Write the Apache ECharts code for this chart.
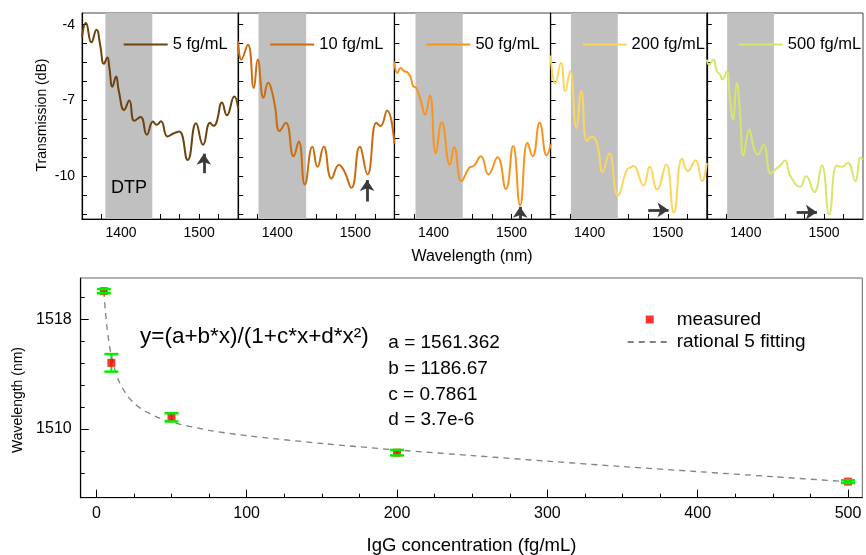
<!DOCTYPE html>
<html><head><meta charset="utf-8">
<script src="https://cdn.jsdelivr.net/npm/echarts@6/dist/echarts.min.js"></script>
<style>html,body{margin:0;padding:0;background:#fff}#c{width:866px;height:555px}</style>
</head><body><div id="c"></div>
<script>
// ---------- top panels: transmission spectra ----------
const seriesNames = ['5 fg/mL', '10 fg/mL', '50 fg/mL', '200 fg/mL', '500 fg/mL'];

const wave5 = [1350,1355,1362,1368.5,1373.5,1378,1382.5,1385,1389,1393.6,1397,1404,1410.5,1417,1425,1433,1441,1445.5,1451,1459.5,1467,1474.5,1485.3,1496,1505,1514,1518.5,1522,1529.3,1535.5,1545,1550];
const trans5 = [-4.49,-3.93,-4.7,-4.2,-4.85,-5.55,-5.3,-5.7,-6.45,-6.05,-6.6,-7.37,-7.0,-7.8,-7.65,-8.35,-7.83,-7.96,-7.82,-8.42,-8.3,-8.22,-9.35,-7.9,-8.75,-7.88,-8.0,-7.88,-7.08,-7.58,-6.84,-7.32];

const wave10 = [1350,1354,1362.4,1370,1375,1382.5,1388.5,1392,1397,1403,1411,1421,1427.5,1435.3,1445,1451.5,1459.5,1469.5,1479,1486,1495,1505.6,1515.5,1527,1532,1540.6,1550];
const trans10 = [-4.66,-5.38,-4.79,-6.5,-5.38,-6.89,-6.3,-6.5,-7.2,-8.2,-7.88,-9.2,-8.62,-10.32,-8.83,-9.62,-8.83,-10.08,-9.55,-9.8,-10.45,-8.83,-9.92,-7.88,-8.01,-7.39,-8.7];

const wave50 = [1350,1353.8,1358,1362.4,1366.7,1371,1374,1378,1384,1389.3,1395.5,1403,1410.7,1421,1426.5,1436,1445.7,1452,1460.7,1470.5,1482,1492.7,1502,1511,1520.5,1527,1536,1545,1550];
const trans50 = [-5.45,-5.91,-5.71,-5.84,-5.88,-6.1,-6.43,-6.5,-7.03,-7.55,-6.8,-9.07,-7.86,-9.53,-8.84,-10.18,-9.66,-9.57,-9.2,-9.92,-9.24,-10.49,-8.8,-11.14,-8.67,-9.2,-7.88,-9.17,-8.74];

const wave200 = [1350,1356,1363.3,1368.8,1375,1383,1389.3,1396.6,1403,1407,1411,1416.7,1425.2,1436,1447.9,1452,1456,1469,1476.9,1486.3,1498,1507.7,1518.4,1525.6,1535.5,1544,1550];
const trans200 = [-5.22,-6.33,-5.51,-6.63,-5.84,-8.08,-6.63,-8.6,-8.43,-8.51,-8.9,-9.83,-9.09,-10.75,-9.72,-9.65,-9.59,-10.36,-9.62,-10.51,-9.53,-11.43,-9.29,-9.79,-9.37,-10.18,-9.46];

const wave500 = [1350,1353,1358.5,1362.8,1367,1370,1375.5,1380,1383.5,1388.3,1392.6,1396.9,1404.5,1409.6,1415.2,1422.5,1431.9,1437.5,1443,1450.3,1456.7,1469.5,1477.2,1487.5,1497.3,1506.7,1516.5,1523,1530.6,1540,1547,1550];
const trans500 = [-5.38,-5.58,-5.38,-5.84,-5.97,-6.17,-5.84,-7.03,-7.75,-6.3,-7.49,-9.17,-8.14,-8.8,-9.13,-8.76,-9.89,-9.72,-9.6,-9.37,-9.96,-10.41,-9.99,-10.62,-9.57,-11.5,-9.57,-9.62,-9.46,-10.18,-9.26,-9.33];

// DTP shaded band (nm) per panel
const dtpStart = [1380, 1376, 1377, 1376, 1376];
const dtpEnd = [1440, 1437, 1437.5, 1436, 1436];
// arrows (nm, dB)
const arrowFrom = [[1506,-9.87],[1515,-10.99],[1511,-11.68],[1475,-11.32],[1465,-11.41]];
const arrowTo = [[1506,-9.1],[1515,-10.14],[1511,-11.2],[1501,-11.32],[1491,-11.41]];

const waveTicks = [1375,1400,1425,1450,1475,1500,1525];
const waveLabels = [1400,1500];
const transTicks = [-11.5,-10.75,-10,-9.25,-8.5,-7.75,-7,-6.25,-5.5,-4.75,-4];
const transLabels = [-10,-7,-4];

// ---------- bottom panel: peak wavelength vs concentration ----------
const concentration = [5, 10, 50, 200, 500];
const peakWavelength = [1520.04, 1514.82, 1510.85, 1508.28, 1506.17];
const peakError = [0.15, 0.64, 0.3, 0.2, 0.1];
const fitConc = [5,6,7,8,9,10,12,15,20,25,30,40,50,75,100,150,200,250,300,350,400,450,500];
const fitWave = [1520.04,1518.6,1517.5,1516.6,1515.9,1515.34,1514.46,1513.5,1512.53,1511.9,1511.46,1510.89,1510.5,1509.91,1509.52,1508.95,1508.48,1508.07,1507.66,1507.27,1506.9,1506.53,1506.16];
const concMajor = [0,100,200,300,400,500];
const concMinor = [25,50,75,125,150,175,225,250,275,325,350,375,425,450,475];
const wlMajor = [1510,1518];
const wlMinor = [1506.8,1508.4,1511.6,1513.2,1514.8,1516.4,1519.6];

// ---------- build option ----------
const FONT = '"Liberation Sans", Arial, Helvetica, sans-serif';
const plain = v => String(v);
const waves = [wave5, wave10, wave50, wave200, wave500];
const transs = [trans5, trans10, trans50, trans200, trans500];
const colors = ['#6e420e', '#c96d10', '#f7931e', '#fdd55e', '#d9e46c'];
const panelLeft = [82, 238.2, 394.4, 550.6, 706.8];
const panelW = 156.2;

const grids = [], xAxes = [], yAxes = [], series = [], legends = [];
for (let i = 0; i < 5; i++) {
  grids.push({left: panelLeft[i], top: 13, width: panelW, height: 206, show: true,
    borderColor: '#444', borderWidth: 1, backgroundColor: 'transparent'});
  xAxes.push({gridIndex: i, type: 'value', min: 1350, max: 1550,
    axisLine: {show: true, onZero: false, lineStyle: {color: '#000', width: 1.2}},
    axisTick: {show: true, inside: true, length: 5, customValues: waveTicks, lineStyle: {color: '#000'}},
    axisLabel: {show: true, customValues: waveLabels, formatter: plain, fontSize: 14, fontFamily: FONT, color: '#000', margin: 7},
    splitLine: {show: false}});
  yAxes.push({gridIndex: i, type: 'value', min: -11.68, max: -3.54,
    axisLine: {show: true, onZero: false, lineStyle: {color: '#000', width: 1.2}},
    axisTick: {show: true, inside: true, length: 5, customValues: transTicks, lineStyle: {color: '#000'}},
    axisLabel: {show: i === 0, customValues: transLabels, formatter: plain, fontSize: 14, fontFamily: FONT, color: '#000', margin: 7},
    splitLine: {show: false}});
  series.push({
    type: 'line', name: seriesNames[i], xAxisIndex: i, yAxisIndex: i,
    data: waves[i].map((w, k) => [w, transs[i][k]]),
    symbol: 'none', smooth: 0.5, lineStyle: {color: colors[i], width: 2}, itemStyle: {color: colors[i]},
    z: 3, silent: true,
    markArea: {silent: true, itemStyle: {color: '#c0c0c0', opacity: 1},
      data: [[{xAxis: dtpStart[i]}, {xAxis: dtpEnd[i]}]]},
    markLine: {silent: true, symbol: ['none', 'arrow'], symbolSize: 11,
      lineStyle: {color: '#3a3a3a', width: 2.8, type: 'solid'}, label: {show: false},
      data: [[{coord: arrowFrom[i]}, {coord: arrowTo[i]}]]}
  });
  legends.push({data: [{name: seriesNames[i], itemStyle: {opacity: 0}}], left: i === 0 ? 122.7 : panelLeft[i] + 31, top: 36, padding: 0,
    itemWidth: 44, itemHeight: 16, selectedMode: false,
    textStyle: {fontSize: 16.5, fontFamily: FONT, color: '#000', lineHeight: 16}});
}
// bottom grid
grids.push({left: 80.7, top: 278, width: 781.6, height: 219.7, show: true, borderColor: '#666', borderWidth: 1, backgroundColor: 'transparent'});
xAxes.push({gridIndex: 5, type: 'value', min: -10.4, max: 509.5, position: 'bottom',
  axisLine: {show: true, onZero: false, lineStyle: {color: '#000', width: 1.2}},
  axisTick: {show: true, inside: true, length: 8, customValues: concMajor, lineStyle: {color: '#000'}},
  axisLabel: {show: true, customValues: concMajor, formatter: plain, fontSize: 16, fontFamily: FONT, color: '#000', margin: 8},
  splitLine: {show: false}});
xAxes.push({gridIndex: 5, type: 'value', min: -10.4, max: 509.5, position: 'bottom',
  axisLine: {show: false, onZero: false}, axisTick: {show: true, inside: true, length: 4, customValues: concMinor, lineStyle: {color: '#000'}},
  axisLabel: {show: false}, splitLine: {show: false}});
yAxes.push({gridIndex: 5, type: 'value', min: 1505, max: 1521, position: 'left',
  axisLine: {show: true, onZero: false, lineStyle: {color: '#000', width: 1.2}},
  axisTick: {show: true, inside: true, length: 8, customValues: wlMajor, lineStyle: {color: '#000'}},
  axisLabel: {show: true, customValues: wlMajor, formatter: plain, fontSize: 16, fontFamily: FONT, color: '#000', margin: 9},
  splitLine: {show: false}});
yAxes.push({gridIndex: 5, type: 'value', min: 1505, max: 1521, position: 'left',
  axisLine: {show: false, onZero: false}, axisTick: {show: true, inside: true, length: 4, customValues: wlMinor, lineStyle: {color: '#000'}},
  axisLabel: {show: false}, splitLine: {show: false}});

const errData = concentration.map((c, k) => [c, peakWavelength[k], peakError[k]]);
series.push({type: 'line', name: 'rational 5 fitting', xAxisIndex: 5, yAxisIndex: 5,
  data: fitConc.map((c, k) => [c, fitWave[k]]), symbol: 'none', smooth: 0.3, silent: true,
  lineStyle: {color: '#808080', width: 1.3, type: [6, 5]}, itemStyle: {color: '#808080'}, z: 2});
series.push({type: 'custom', name: 'stems', xAxisIndex: 5, yAxisIndex: 5, data: errData, z: 2, silent: true,
  encode: {x: 0, y: 1},
  renderItem: (params, api) => {
    const x = api.value(0), y = api.value(1), e = api.value(2);
    const t = api.coord([x, y + e]), b = api.coord([x, y - e]);
    return {type: 'line', shape: {x1: t[0], y1: t[1], x2: b[0], y2: b[1]}, style: {stroke: '#00ee00', lineWidth: 2}};
  }});
series.push({type: 'scatter', name: 'measured', xAxisIndex: 5, yAxisIndex: 5,
  data: concentration.map((c, k) => [c, peakWavelength[k]]), symbol: 'rect', symbolSize: 8,
  itemStyle: {color: '#ff0000'}, z: 3, silent: true});
series.push({type: 'custom', name: 'caps', xAxisIndex: 5, yAxisIndex: 5, data: errData, z: 4, silent: true,
  encode: {x: 0, y: 1},
  renderItem: (params, api) => {
    const x = api.value(0), y = api.value(1), e = api.value(2);
    const t = api.coord([x, y + e]), b = api.coord([x, y - e]);
    const hw = 7;
    return {type: 'group', children: [
      {type: 'line', shape: {x1: t[0] - hw, y1: t[1], x2: t[0] + hw, y2: t[1]}, style: {stroke: '#00ee00', lineWidth: 2.5}},
      {type: 'line', shape: {x1: b[0] - hw, y1: b[1], x2: b[0] + hw, y2: b[1]}, style: {stroke: '#00ee00', lineWidth: 2.5}}
    ]};
  }});
legends.push({data: [{name: 'measured', icon: 'path://M0,0L10,0L10,10L0,10Z'}, {name: 'rational 5 fitting', itemStyle: {opacity: 0}}],
  orient: 'vertical', left: 626.7, top: 310, padding: 0, itemWidth: 44, itemHeight: 8, itemGap: 3.5,
  selectedMode: false, textStyle: {fontSize: 19, fontFamily: FONT, color: '#000', lineHeight: 19}});

const txt = (text, x, y, size, extra) => Object.assign({type: 'text', x: x, y: y, z: 100, silent: true,
  style: Object.assign({text: text, fontSize: size, fontFamily: FONT, fill: '#000', align: 'left', verticalAlign: 'middle'}, (extra && extra.style) || {})},
  extra && extra.rotation != null ? {rotation: extra.rotation} : {});

const graphic = [
  txt('Transmission (dB)', 42, 115, 14, {rotation: Math.PI / 2, style: {align: 'center'}}),
  txt('Wavelength (nm)', 472, 256.7, 16, {style: {align: 'center'}}),
  txt('DTP', 129, 188, 18, {style: {align: 'center'}}),
  txt('y=(a+b*x)/(1+c*x+d*x²)', 140, 337, 22.5),
  txt('a = 1561.362', 388.3, 342.7, 19),
  txt('b = 1186.67', 388.3, 369, 19),
  txt('c = 0.7861', 388.3, 395, 19),
  txt('d = 3.7e-6', 388.3, 419.3, 19),
  txt('Wavelength (nm)', 18.3, 400, 14, {rotation: Math.PI / 2, style: {align: 'center'}}),
  txt('IgG concentration (fg/mL)', 471.5, 546, 18.5, {style: {align: 'center'}})
];

const chart = echarts.init(document.getElementById('c'), null, {renderer: 'canvas'});
chart.setOption({
  animation: false, backgroundColor: '#fff',
  textStyle: {fontFamily: FONT},
  grid: grids, xAxis: xAxes, yAxis: yAxes, series: series, legend: legends, graphic: graphic
});
</script></body></html>
